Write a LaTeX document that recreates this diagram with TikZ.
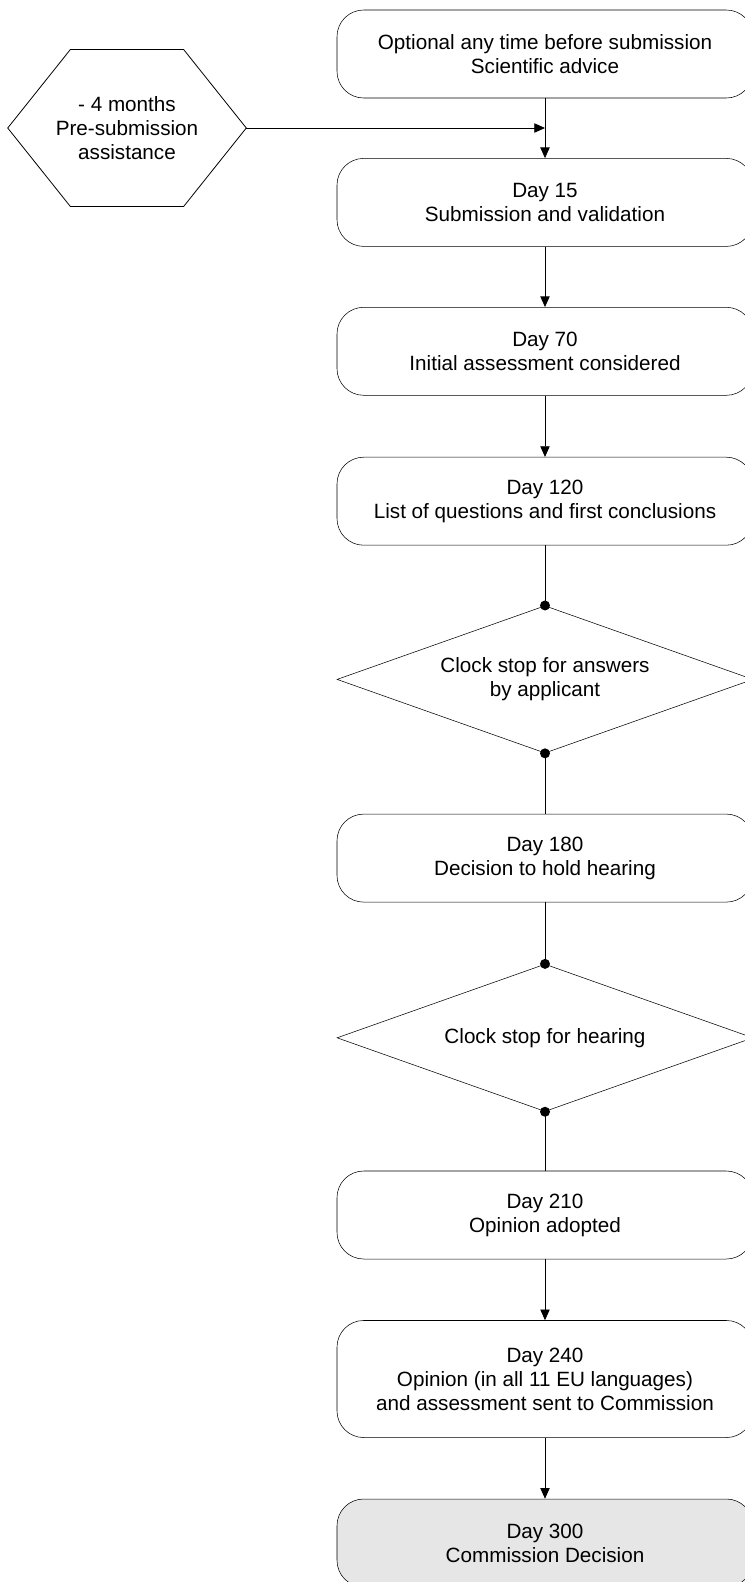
\documentclass[tikz,border=0pt]{standalone}
\usepackage{fontspec}
\setmainfont{Liberation Sans}
\usetikzlibrary{shapes,arrows.meta,positioning,calc}

\begin{document}
\begin{tikzpicture}[x=0.75pt, y=-0.75pt,
        font=\fontsize{15.5}{18}\selectfont,
        daybox/.style={draw, rounded corners=20pt, fill=white, align=center, minimum width=312pt, minimum height=66pt, inner sep=0pt},
        stopbox/.style={draw, diamond, aspect=2.82, fill=white, align=center, minimum width=312pt, minimum height=110.5pt, inner sep=0pt},
        flow/.style={-{Triangle[length=8pt,width=7pt]}, line width=0.6pt},
        link/.style={line width=0.6pt},
        dot/.style={circle, fill=black, inner sep=0pt, minimum size=7.5pt}]
        % Define the grey of the final decision
        \definecolor{decisiongray}{RGB}{230,230,230}

        % Page frame, the boxes run off on the right
        \useasboundingbox (0,0) rectangle (745,1582);
        \clip (0,0) rectangle (745,1582);

        % Optional step - Scientific advice
        \node[daybox] (advice) at (545,54) {Optional any time before submission\\Scientific advice};

        % Side step - Pre-submission assistance
        \node[align=center, minimum width=178.5pt, minimum height=117.4pt, inner sep=0pt] (presub) at (127,128) {- 4 months\\Pre-submission\\assistance};
        \draw[link] (presub.west) -- ([xshift=47pt]presub.north west) -- ([xshift=-47pt]presub.north east)
            -- (presub.east) -- ([xshift=-47pt]presub.south east) -- ([xshift=47pt]presub.south west) -- cycle;

        % Main line of days
        \node[daybox] (day15) at (545,202.4) {Day 15\\Submission and validation};
        \node[daybox] (day70) at (545,351.3) {Day 70\\Initial assessment considered};
        \node[daybox] (day120) at (545,501.2) {Day 120\\List of questions and first conclusions};
        \node[stopbox] (stopanswers) at (545,679.4) {Clock stop for answers\\by applicant};
        \node[daybox] (day180) at (545,858.1) {Day 180\\Decision to hold hearing};
        \node[stopbox] (stophearing) at (545,1037.8) {Clock stop for hearing};
        \node[daybox] (day210) at (545,1215) {Day 210\\Opinion adopted};
        \node[daybox, minimum height=87.8pt] (day240) at (545,1379) {Day 240\\Opinion (in all 11 EU languages)\\and assessment sent to Commission};
        \node[daybox, fill=decisiongray] (day300) at (545,1543) {Day 300\\Commission Decision};

        % Connecting lines
        \draw[flow] (advice) -- (day15);
        \draw[flow] (presub.east) -- (presub.east -| advice.south);
        \draw[flow] (day15) -- (day70);
        \draw[flow] (day70) -- (day120);
        \draw[link] (day120) -- (stopanswers.north);
        \draw[link] (stopanswers.south) -- (day180);
        \draw[link] (day180) -- (stophearing.north);
        \draw[link] (stophearing.south) -- (day210);
        \draw[flow] (day210) -- (day240);
        \draw[flow] (day240) -- (day300);

        % Dots on the clock stops
        \node[dot] (answerstop) at (stopanswers.north) {};
        \node[dot] (answerend) at (stopanswers.south) {};
        \node[dot] (hearingtop) at (stophearing.north) {};
        \node[dot] (hearingend) at (stophearing.south) {};
    \end{tikzpicture}
\end{document}
